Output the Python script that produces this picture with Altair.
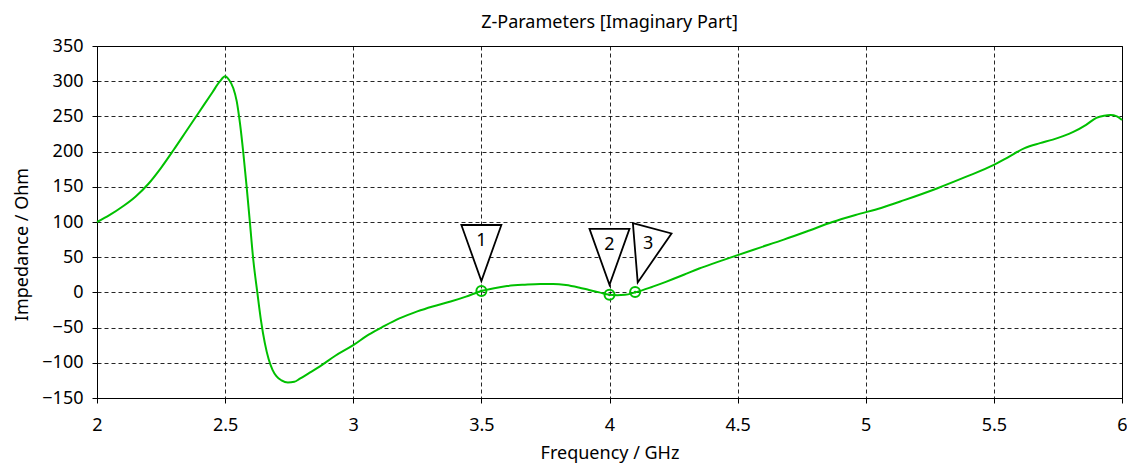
import altair as alt
import pandas as pd

# ---- data ----
freq_ghz = [2.0, 2.05, 2.1, 2.15, 2.2, 2.25, 2.3, 2.35, 2.4, 2.45, 2.48, 2.5,
            2.515, 2.532, 2.545, 2.558, 2.571, 2.584, 2.597, 2.61, 2.626, 2.64,
            2.655, 2.67, 2.685, 2.7, 2.72, 2.745, 2.77, 2.79, 2.83, 2.87, 2.93, 3.0,
            3.06, 3.12, 3.18, 3.25, 3.31, 3.38, 3.44, 3.5, 3.55, 3.6, 3.67, 3.73,
            3.78, 3.83, 3.88, 3.92, 3.96, 4.0, 4.03, 4.06, 4.1, 4.16, 4.22, 4.29,
            4.35, 4.42, 4.5, 4.59, 4.68, 4.78, 4.87, 4.96, 5.06, 5.15, 5.28, 5.39,
            5.5, 5.56, 5.62, 5.68, 5.73, 5.77, 5.81, 5.86, 5.9, 5.93, 5.955, 5.98,
            6.0]
imag_ohm = [100, 110, 122, 136, 154, 177, 203, 230, 257, 284, 300, 307,
            302, 290, 272, 240, 198, 150, 98, 46, -1, -40,
            -72, -95, -110, -119, -125, -128, -127, -123, -114, -105, -90, -75,
            -60, -48, -37, -27, -20, -13, -6, 2, 6, 9, 11, 12,
            12, 10.5, 7, 3.5, 0, -3.5, -4, -3.5, 0, 7, 15, 25,
            34, 43, 53, 64, 75, 88, 100, 110, 120, 131, 148, 164,
            181, 193, 205, 212, 217, 222, 228, 238, 248, 251, 252, 250,
            245]

marker_ids = ["1", "2", "3"]
marker_freq = [3.5, 4.0, 4.1]
marker_imag = [2.0, -3.5, 0.5]

x_ticks = [2, 2.5, 3, 3.5, 4, 4.5, 5, 5.5, 6]
y_ticks = [-150, -100, -50, 0, 50, 100, 150, 200, 250, 300, 350]

curve = pd.DataFrame({"f": freq_ghz, "z": imag_ohm})
marks = pd.DataFrame({"id": marker_ids, "f": marker_freq, "z": marker_imag})

FONT = "Noto Sans"
GREEN = "#00C000"
FS = 18
TRI = "M-1,-3.3L1,-3.3L0,-0.5Z"

xs = alt.Scale(domain=[2, 6], nice=False, zero=False)
ys = alt.Scale(domain=[-150, 350], nice=False, zero=False)

x_axis = alt.Axis(values=x_ticks, title="Frequency / GHz", format="~g", labelPadding=13,
                  labelFlush=False, titleY=60, titleBaseline="alphabetic")
y_axis = alt.Axis(values=y_ticks, title="Impedance / Ohm", format="d", labelPadding=9,
                  labelFlush=False, titleAngle=270, titleX=-70, titleY=198,
                  titleAlign="center", titleBaseline="alphabetic")
X = alt.X("f:Q", scale=xs, axis=x_axis)
Y = alt.Y("z:Q", scale=ys, axis=y_axis)

line = alt.Chart(curve).mark_line(
    color=GREEN, strokeWidth=2, interpolate="monotone"
).encode(x=X, y=Y)

rings = alt.Chart(marks).mark_point(
    shape="circle", size=100, filled=False, stroke=GREEN, strokeWidth=2, opacity=1
).encode(x=X, y=Y)
dots = alt.Chart(marks).mark_point(
    shape="circle", size=8, filled=True, color=GREEN, opacity=1
).encode(x=X, y=Y)

layers = [line, rings, dots]
for mid in marker_ids:
    sub = alt.Chart(marks).transform_filter(alt.datum.id == mid)
    ang = 15 if mid == "3" else 0
    ddx = 13 if mid == "3" else 0
    ddy = -48 if mid == "3" else -50
    tri = sub.mark_point(
        shape=TRI, size=1600, filled=True, fill="white", stroke="black",
        strokeWidth=1.8, opacity=1, angle=ang
    ).encode(x=X, y=Y)
    lab = sub.mark_text(
        font=FONT, fontSize=FS, color="black", dx=ddx, dy=ddy,
        align="center", baseline="middle"
    ).encode(x=X, y=Y, text="id:N")
    layers += [tri, lab]

chart = alt.layer(*layers).properties(
    width=1025, height=352,
    background="white",
    title=alt.TitleParams("Z-Parameters [Imaginary Part]", font=FONT, fontSize=FS,
                          fontWeight="normal", color="black", anchor="middle",
                          frame="group", offset=5),
    autosize=alt.AutoSizeParams(type="none"),
    padding={"left": 89, "top": 38, "right": 5, "bottom": 68},
).configure_view(
    stroke="black", strokeWidth=1
).configure_axis(
    grid=True, gridColor="black", gridDash=[4, 3], gridWidth=1, gridOpacity=0.85,
    domain=False, ticks=True, tickColor="black", tickSize=5, tickWidth=1,
    labelFont=FONT, labelFontSize=FS, labelColor="black",
    titleFont=FONT, titleFontSize=FS, titleFontWeight="normal", titleColor="black"
)

chart.save("out.html", embed_options={"renderer": "svg", "actions": False})
